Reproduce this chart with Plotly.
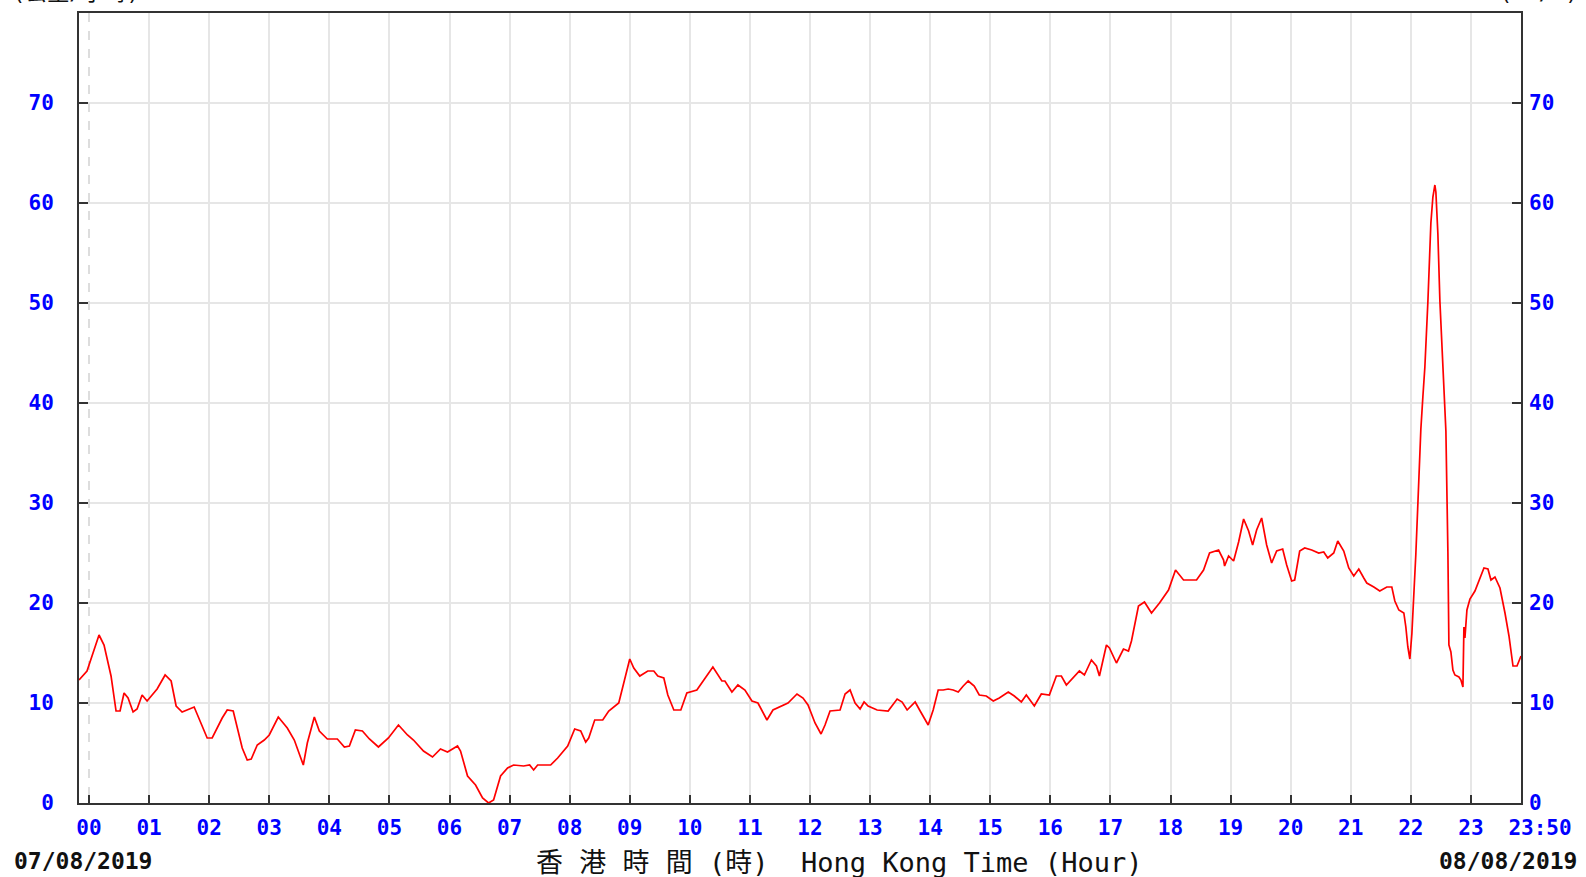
import plotly.graph_objects as go

# minutes after 00:00 on 07/08/2019, wind speed (km/h)
minutes = [-10, -2, 3, 10, 15, 22, 27, 31, 35, 39, 44, 48, 53, 58, 68, 76, 82, 87, 93, 105,
           118, 123, 133, 138, 144, 153, 158, 162, 168, 175, 180, 189, 198, 205, 214, 218, 225,
           230, 238, 248, 255, 260, 266, 273, 280, 289, 299, 309, 318, 324, 334, 343, 351, 358,
           368, 371, 378, 386, 393, 399, 404, 411, 418, 424, 434, 440, 444, 448, 461, 468, 478,
           485, 491, 496, 499, 505, 513, 519, 529, 534, 540, 544, 550, 558, 564, 568, 574, 578,
           584, 591, 597, 607, 613, 623, 632, 635, 642, 648, 655, 662, 668, 677, 683, 693, 698,
           707, 713, 718, 725, 731, 735, 740, 750, 755, 760, 765, 770, 774, 778, 787, 798, 807,
           812, 817, 825, 830, 838, 843, 848, 853, 858, 863, 868, 873, 878, 884, 889, 896, 903,
           909, 918, 924, 931, 936, 944, 951, 959, 966, 971, 976, 984, 989, 994, 1001, 1006,
           1009, 1016, 1019, 1026, 1033, 1038, 1041, 1048, 1054, 1061, 1069, 1078, 1085, 1093,
           1106, 1113, 1119, 1128, 1133, 1134, 1138, 1143, 1148, 1153, 1158, 1162, 1166, 1171,
           1176, 1181, 1186, 1192, 1196, 1201, 1204, 1209, 1214, 1221, 1228, 1233, 1237, 1243,
           1247, 1253, 1258, 1263, 1268, 1273, 1276, 1283, 1289, 1296, 1301, 1304, 1308, 1313,
           1315, 1317, 1319, 1321, 1323, 1325, 1327, 1329, 1330, 1332, 1334, 1337, 1339, 1340,
           1342, 1344, 1345, 1347, 1349, 1351, 1353, 1355, 1357, 1358, 1360, 1362, 1364, 1368,
           1370, 1372, 1373, 1374, 1376, 1379, 1384, 1389, 1393, 1397, 1400, 1404, 1409, 1414,
           1418, 1422, 1426, 1430]
speed = [12.3, 13.2, 14.7, 16.8, 15.8, 12.7, 9.2, 9.2, 11.0, 10.5, 9.1, 9.4, 10.8, 10.2, 11.4,
         12.8, 12.2, 9.7, 9.1, 9.6, 6.5, 6.5, 8.5, 9.3, 9.2, 5.5, 4.3, 4.4, 5.8, 6.3, 6.8, 8.6,
         7.5, 6.3, 3.8, 6.0, 8.6, 7.2, 6.4, 6.4, 5.6, 5.7, 7.3, 7.2, 6.4, 5.6, 6.5, 7.8, 6.8, 6.3,
         5.2, 4.6, 5.4, 5.1, 5.7, 5.2, 2.7, 1.8, 0.5, 0.0, 0.3, 2.7, 3.5, 3.8, 3.7, 3.8, 3.3, 3.8,
         3.8, 4.5, 5.7, 7.4, 7.2, 6.1, 6.5, 8.3, 8.3, 9.2, 10.0, 12.0, 14.4, 13.5, 12.7, 13.2,
         13.2, 12.7, 12.5, 10.8, 9.3, 9.3, 11.0, 11.3, 12.2, 13.6, 12.2, 12.2, 11.1, 11.8, 11.3,
         10.2, 10.0, 8.3, 9.3, 9.8, 10.0, 10.9, 10.5, 9.8, 8.0, 6.9, 7.8, 9.2, 9.3, 10.9, 11.3,
         10.0, 9.4, 10.1, 9.7, 9.3, 9.2, 10.4, 10.1, 9.3, 10.1, 9.2, 7.8, 9.3, 11.3, 11.3, 11.4,
         11.3, 11.1, 11.7, 12.2, 11.7, 10.8, 10.7, 10.2, 10.5, 11.1, 10.7, 10.1, 10.8, 9.7, 10.9,
         10.8, 12.7, 12.7, 11.8, 12.7, 13.2, 12.8, 14.3, 13.7, 12.7, 15.8, 15.5, 14.0, 15.4, 15.2,
         16.2, 19.7, 20.1, 19.0, 20.0, 21.3, 23.3, 22.3, 22.3, 23.3, 25.0, 25.3, 24.3, 23.7, 24.7,
         24.2, 26.1, 28.4, 27.2, 25.8, 27.3, 28.5, 25.8, 24.0, 25.2, 25.4, 23.8, 22.2, 22.3, 25.2,
         25.5, 25.3, 25.0, 25.1, 24.5, 25.0, 26.2, 25.2, 23.5, 22.7, 23.4, 22.5, 22.0, 21.6, 21.2,
         21.6, 21.6, 20.2, 19.3, 19.0, 17.6, 15.6, 14.4, 16.9, 20.7, 24.9, 29.9, 35.1, 37.4, 40.6,
         43.6, 50.1, 55.9, 58.0, 60.6, 61.8, 61.1, 56.9, 50.2, 45.7, 42.0, 37.2, 25.1, 15.8, 15.1,
         13.3, 12.8, 12.6, 12.3, 11.6, 17.6, 16.5, 19.3, 20.4, 21.2, 22.5, 23.5, 23.4, 22.3, 22.6,
         21.5, 19.0, 16.7, 13.7, 13.7, 14.7]

hour_ticks = [h * 60 for h in range(24)]
hour_labels = ["%02d" % h for h in range(24)]
end_tick = [1430]
end_label = ["23:50"]
grid_ticks = [h * 60 for h in range(1, 24)]
y_ticks = [0, 10, 20, 30, 40, 50, 60, 70]
x_range = [-10, 1430]
y_range = [0, 79]

LEFT, TOP, W, H = 79, 13, 1442, 790
def px(x):
    return (x - LEFT) / W
def py(y):
    return (TOP + H - y) / H

tickfont = dict(family="DejaVu Sans Mono", size=21, color="#0000ff", weight="bold")
axcol = "#333333"
gridcol = "#e6e6e6"

fig = go.Figure()
fig.add_trace(go.Scatter(x=minutes, y=speed, mode="lines",
                         line=dict(color="#ff0000", width=1.7), xaxis="x", yaxis="y",
                         showlegend=False, hoverinfo="skip"))
# helper traces to carry the secondary axes
for xa, ya in (("x2", "y2"), ("x3", "y"), ("x4", "y")):
    fig.add_trace(go.Scatter(x=x_range, y=y_range, mode="markers", marker=dict(opacity=0),
                             xaxis=xa, yaxis=ya, showlegend=False, hoverinfo="skip"))

fig.update_layout(
    width=1586, height=877,
    margin=dict(l=LEFT, r=1586 - LEFT - W, t=TOP, b=877 - TOP - H),
    plot_bgcolor="white", paper_bgcolor="white",
    xaxis=dict(range=x_range, tickvals=hour_ticks, ticktext=hour_labels, showgrid=False,
               ticks="inside", ticklen=8, tickwidth=2, tickcolor=axcol,
               showline=True, linecolor=axcol, linewidth=2, mirror=True,
               tickfont=tickfont, ticklabelstandoff=5, zeroline=False, automargin=False),
    xaxis2=dict(range=x_range, overlaying="x", tickvals=grid_ticks, showticklabels=False,
                showgrid=True, gridcolor=gridcol, gridwidth=1.5, ticks="", zeroline=False,
                showline=False, layer="below traces"),
    xaxis3=dict(range=x_range, overlaying="x", tickvals=[0], showticklabels=False,
                showgrid=True, gridcolor="#dddddd", gridwidth=1.5, griddash="dash",
                ticks="", zeroline=False, showline=False),
    xaxis4=dict(range=x_range, overlaying="x", side="bottom", tickvals=end_tick,
                ticktext=end_label, showgrid=False, ticks="", zeroline=False,
                showline=False, tickfont=tickfont, ticklabelstandoff=10,
                ticklabelshift=19, automargin=False),
    yaxis=dict(range=y_range, tickvals=y_ticks, showgrid=True, gridcolor=gridcol,
               gridwidth=1.5, ticks="inside", ticklen=9, tickwidth=2, tickcolor=axcol,
               showline=True, linecolor=axcol, linewidth=2, mirror=True,
               tickfont=tickfont, ticklabelstandoff=19, zeroline=False, automargin=False),
    yaxis2=dict(range=y_range, overlaying="y", side="right", tickvals=y_ticks,
                showgrid=False, ticks="inside", ticklen=9, tickwidth=2, tickcolor=axcol,
                tickfont=tickfont, ticklabelstandoff=7, zeroline=False, showline=False,
                automargin=False),
)

date_font = dict(family="DejaVu Sans Mono", size=23, color="#111111", weight="bold")
title_font = dict(family="DejaVu Sans Mono, Noto Sans CJK TC", size=27, color="#111111")
nb = "\u00a0"
fig.add_annotation(text="07/08/2019", xref="paper", yref="paper", x=px(12), y=py(861),
                   xanchor="left", yanchor="middle", showarrow=False, font=date_font)
fig.add_annotation(text="08/08/2019", xref="paper", yref="paper", x=px(1579), y=py(861),
                   xanchor="right", yanchor="middle", showarrow=False, font=date_font)
fig.add_annotation(text="香" + nb + "港" + nb + "時" + nb + "間" + nb + "(時)" + nb + nb +
                   "Hong" + nb + "Kong" + nb + "Time" + nb + "(Hour)",
                   xref="paper", yref="paper", x=px(839), y=py(862),
                   xanchor="center", yanchor="middle", showarrow=False, font=title_font)
unit_font = dict(family="DejaVu Sans Mono, Noto Sans CJK TC", size=22, color="#111111")
fig.add_annotation(text="(公里/小時)", xref="paper", yref="paper", x=px(10), y=py(7),
                   xanchor="left", yanchor="bottom", showarrow=False, font=unit_font)
fig.add_annotation(text="(km/h)", xref="paper", yref="paper", x=px(1497), y=py(7),
                   xanchor="left", yanchor="bottom", showarrow=False, font=unit_font)

fig.write_html("out.html", config={"displayModeBar": False},
               post_script="document.body.style.margin='0px';")
